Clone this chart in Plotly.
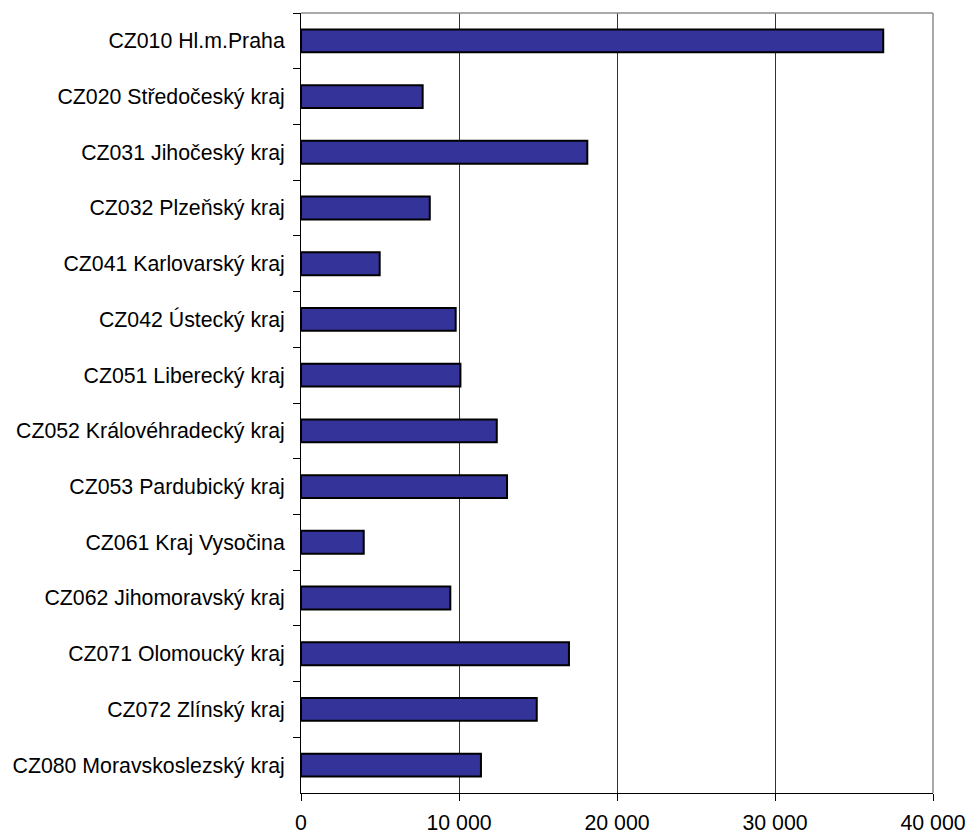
import plotly.graph_objects as go

regions = [
    "CZ010 Hl.m.Praha",
    "CZ020 Středočeský kraj",
    "CZ031 Jihočeský kraj",
    "CZ032 Plzeňský kraj",
    "CZ041 Karlovarský kraj",
    "CZ042 Ústecký kraj",
    "CZ051 Liberecký kraj",
    "CZ052 Královéhradecký kraj",
    "CZ053 Pardubický kraj",
    "CZ061 Kraj Vysočina",
    "CZ062 Jihomoravský kraj",
    "CZ071 Olomoucký kraj",
    "CZ072 Zlínský kraj",
    "CZ080 Moravskoslezský kraj",
]
values = [36850, 7700, 18120, 8150, 4980, 9790, 10090, 12390, 13040, 3970, 9450, 16960, 14920, 11390]
x_ticks = [0, 10000, 20000, 30000, 40000]

fig = go.Figure(
    go.Bar(
        y=regions,
        x=values,
        orientation="h",
        marker=dict(color="#333399", line=dict(color="#000000", width=2)),
        hoverinfo="x+y",
    )
)

fig.update_layout(
    width=968,
    height=834,
    margin=dict(l=301, r=35, t=13, b=41, autoexpand=False),
    paper_bgcolor="white",
    plot_bgcolor="white",
    bargap=0.59,
    separators=", ",
    showlegend=False,
    font=dict(family="Liberation Sans, Arial, sans-serif", size=21.3, color="#000000"),
    xaxis=dict(
        range=[0, 40000],
        tickvals=x_ticks,
        tickformat=",d",
        showgrid=True,
        gridcolor="#333333",
        gridwidth=1,
        showline=True,
        linecolor="#000000",
        linewidth=1,
        ticks="outside",
        ticklen=7,
        tickcolor="#000000",
        ticklabelstandoff=3,
        zeroline=False,
        automargin=False,
        fixedrange=True,
    ),
    yaxis=dict(
        autorange="reversed",
        showline=True,
        linecolor="#000000",
        linewidth=1,
        ticks="outside",
        tickson="boundaries",
        ticklen=7,
        tickcolor="#000000",
        ticklabelstandoff=11,
        showgrid=False,
        automargin=False,
        fixedrange=True,
    ),
    shapes=[
        dict(type="line", xref="paper", yref="paper", x0=0, x1=1, y0=1, y1=1,
             line=dict(color="#8c8c8c", width=1.5)),
        dict(type="line", xref="paper", yref="paper", x0=1, x1=1, y0=0, y1=1,
             line=dict(color="#8c8c8c", width=1.5)),
    ],
)

fig.write_html(
    "out.html",
    config={"displayModeBar": False},
    post_script="document.body.style.margin='0';document.body.style.overflow='hidden';",
)
